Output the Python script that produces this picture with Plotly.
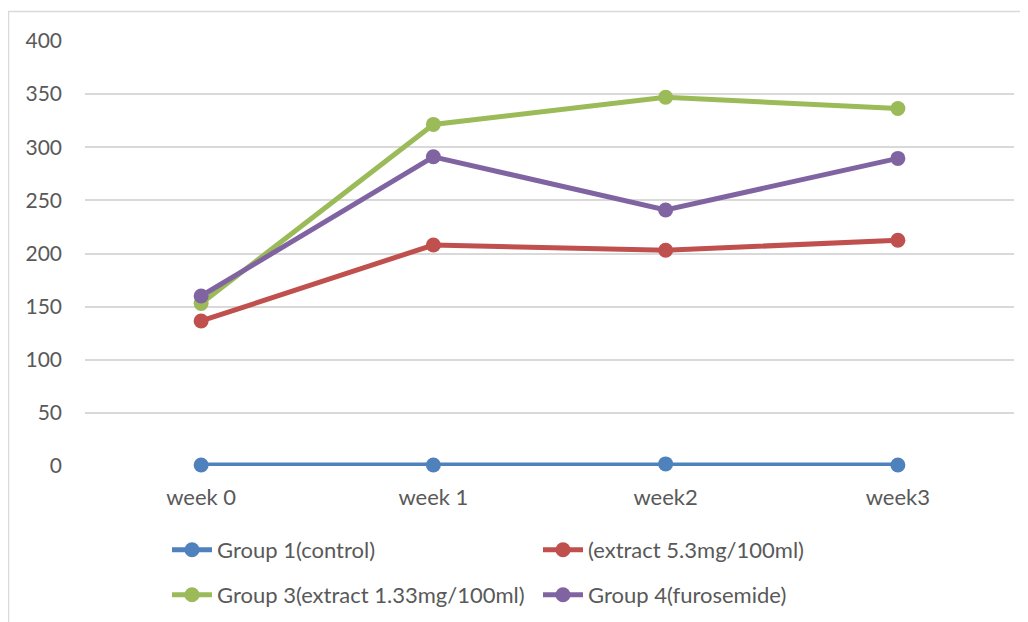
import plotly.graph_objects as go

weeks = ["week 0", "week 1", "week2", "week3"]
group1 = [1, 1, 2, 1]
group2 = [136.5, 208, 203, 212.5]
group3 = [153, 321.5, 347, 336.5]
group4 = [160, 291, 241, 289.5]

series = [
    ("Group 1(control)", group1, "#4F81BD", "legend"),
    ("(extract 5.3mg/100ml)", group2, "#C0504D", "legend"),
    ("Group 3(extract 1.33mg/100ml)", group3, "#9BBB59", "legend2"),
    ("Group 4(furosemide)", group4, "#8064A2", "legend2"),
]

fig = go.Figure()
for name, vals, col, leg in series:
    fig.add_trace(go.Scatter(
        x=weeks, y=vals, name=name, mode="lines+markers",
        line=dict(color=col, width=5),
        marker=dict(color=col, size=15),
        cliponaxis=False, legend=leg,
    ))

# page body has an 8px margin, so work in figure pixels = reference pixels - 8
OFF = 8
W, H = 1028 - OFF, 622 - OFF
L, T = 85 - OFF, 41 - OFF
PR, PB = 1014 - OFF, 466 - OFF
R, B = W - PR, H - PB
pw, ph = PR - L, PB - T

def px(x):
    return (x - OFF - L) / pw

def py(y):
    return (PB - (y - OFF)) / ph

font = "Lato, 'Open Sans', sans-serif"
legcommon = dict(orientation="h", xanchor="left", yanchor="top",
                 entrywidth=316, entrywidthmode="pixels",
                 font=dict(size=22, color="#595959", family=font),
                 itemwidth=40, bgcolor="rgba(0,0,0,0)")

fig.update_layout(
    width=W, height=H,
    margin=dict(l=L, r=R, t=T, b=B, autoexpand=False),
    paper_bgcolor="white", plot_bgcolor="white",
    font=dict(family=font, size=21, color="#595959"),
    showlegend=True,
    legend=dict(x=px(167), y=py(529), **legcommon),
    legend2=dict(x=px(167), y=py(574), **legcommon),
    xaxis=dict(
        range=[-0.5, 3.5], showgrid=False, showline=False, zeroline=False,
        ticks="", ticklabelstandoff=16, tickfont=dict(size=22),
        automargin=False,
    ),
    yaxis=dict(
        range=[0, 400], dtick=50, showgrid=True, gridcolor="#d9d9d9",
        gridwidth=1.5, zeroline=False, showline=False, ticks="",
        ticklabelstandoff=22, automargin=False,
    ),
)

fig.add_shape(type="rect", xref="paper", yref="paper",
              x0=px(8.5), x1=1.2, y0=-1, y1=py(11.5),
              line=dict(color="#d9d9d9", width=1.5), fillcolor="rgba(0,0,0,0)",
              layer="below")

fig.write_html("out.html")
